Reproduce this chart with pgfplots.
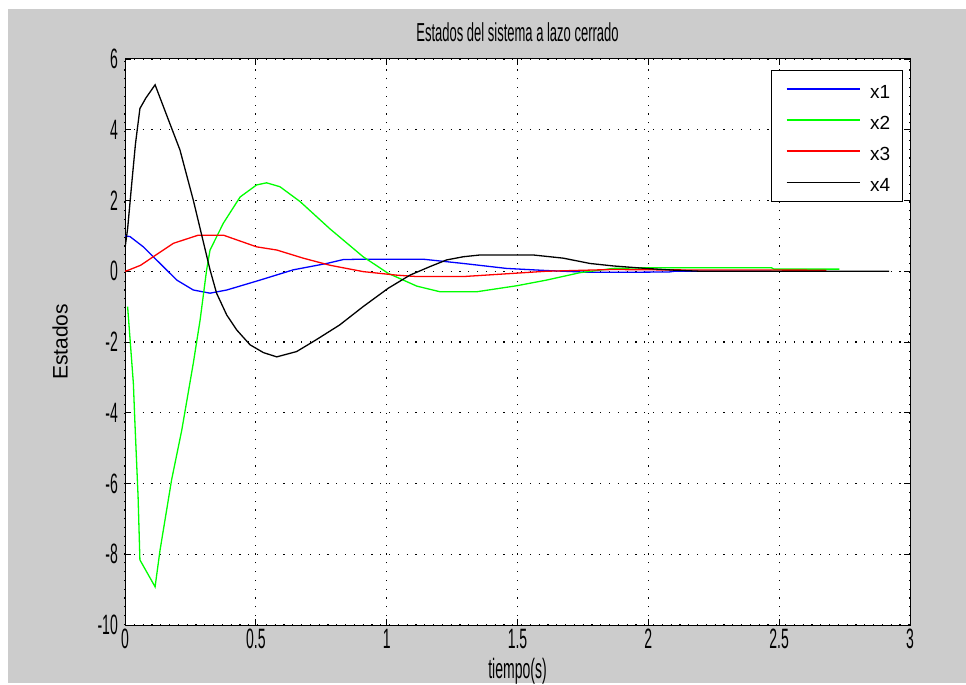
\documentclass[border=0pt]{standalone}
\usepackage{fontspec}
\setmainfont{Liberation Sans}
\newfontfamily\nfont[FakeStretch=0.5]{Liberation Sans}
\usepackage{pgfplots}
\pgfplotsset{compat=1.18}
\definecolor{mgrey}{RGB}{204,204,204}
\definecolor{mblue}{RGB}{0,0,255}
\definecolor{mgreen}{RGB}{0,255,0}
\definecolor{mred}{RGB}{255,0,0}
\begin{document}
\begin{tikzpicture}[x=1pt,y=1pt]
\fill[white] (0,0) rectangle (966,683);
\fill[mgrey] (8,0) rectangle (966,674);
\begin{axis}[
  at={(125pt,58pt)}, anchor=south west,
  width=785pt, height=566pt, scale only axis,
  xmin=0, xmax=3, ymin=-10, ymax=6,
  xtick={0,0.5,1,1.5,2,2.5,3},
  ytick={-10,-8,-6,-4,-2,0,2,4,6},
  /pgf/number format/assume math mode=true,
  tick label style={font=\nfont\fontsize{28}{28}\selectfont},
  xticklabel style={anchor=base, inner sep=0pt, yshift=-23pt},
  yticklabel style={anchor=east, inner sep=0pt, xshift=-7pt},
  tickpos=both, tick align=inside, major tick length=6pt,
  tick style={black, line width=0.8pt},
  axis line style={black, line width=1pt},
  grid=major,
  major grid style={black, line width=1.2pt, dash pattern=on 1.2pt off 7.6pt},
  axis background/.style={fill=white},
  title={Estados del sistema a lazo cerrado},
  title style={font=\nfont\fontsize{26}{26}\selectfont, at={(axis description cs:0.5,1.021)}, anchor=base, inner sep=0pt},
  xlabel={tiempo(s)},
  xlabel style={font=\nfont\fontsize{28}{28}\selectfont, at={(axis description cs:0.5,-0.0954)}, anchor=base, inner sep=0pt},
  ylabel={Estados},
  ylabel style={font=\fontsize{21}{21}\selectfont, at={(axis description cs:-0.0828,0.5)}, anchor=center, inner sep=0pt},
  every axis plot/.append style={line width=1.3pt},
]
% x1
\addplot[mblue] coordinates {
(0,1.0) (0.019,0.98) (0.07,0.69) (0.134,0.22) (0.198,-0.25) (0.261,-0.53)
(0.325,-0.62) (0.389,-0.53) (0.516,-0.25) (0.643,0.04) (0.771,0.22)
(0.834,0.33) (0.9,0.34) (1.14,0.34) (1.293,0.22) (1.458,0.08) (1.611,0.02)
(1.777,-0.03) (1.9,-0.03) (2.08,-0.02) (2.1,0.0) (2.47,0.0)};
% x2
\addplot[mgreen] coordinates {
(0.01,-1.0) (0.032,-3.17) (0.038,-4.3) (0.05,-6.37) (0.057,-8.16) (0.115,-8.92)
(0.134,-7.88) (0.178,-5.9) (0.217,-4.49) (0.261,-2.6) (0.287,-1.38) (0.312,0.04)
(0.325,0.6) (0.376,1.36) (0.44,2.1) (0.503,2.44) (0.541,2.5) (0.592,2.39)
(0.669,1.97) (0.783,1.2) (0.91,0.41) (1.006,-0.06) (1.115,-0.42) (1.204,-0.58)
(1.344,-0.58) (1.497,-0.41) (1.611,-0.25) (1.739,-0.04) (1.866,0.08)
(2.0,0.1) (2.47,0.1) (2.48,0.06) (2.73,0.06)};
% x3
\addplot[mred] coordinates {
(0,0) (0.013,0.03) (0.06,0.17) (0.108,0.41) (0.185,0.79) (0.28,1.02) (0.376,1.02)
(0.503,0.69) (0.58,0.6) (0.681,0.37) (0.783,0.17) (0.91,-0.01) (1.038,-0.11)
(1.115,-0.15) (1.293,-0.15) (1.42,-0.09) (1.61,0.0) (1.866,0.05) (2.0,0.04)
(2.68,0.03)};
% x4
\addplot[black] coordinates {
(0,0.65) (0.01,1.2) (0.026,2.5) (0.04,3.6) (0.057,4.6) (0.08,4.9) (0.115,5.27)
(0.166,4.28) (0.21,3.43) (0.261,2.01) (0.325,0.04) (0.35,-0.62) (0.389,-1.24)
(0.427,-1.66) (0.478,-2.08) (0.529,-2.3) (0.58,-2.42) (0.656,-2.27) (0.73,-1.94)
(0.82,-1.52) (0.91,-1.0) (1.006,-0.48) (1.089,-0.11) (1.165,0.13) (1.229,0.32)
(1.293,0.41) (1.357,0.46) (1.56,0.46) (1.675,0.37) (1.777,0.22) (1.866,0.15)
(1.99,0.08) (2.1,0.03) (2.2,0.0) (2.92,0.0)};
% legend
\draw[black, line width=1pt, fill=white] (rel axis cs:0.8238,0.7479) rectangle (rel axis cs:0.9902,0.9793);
\draw[mblue, line width=1.3pt] (rel axis cs:0.8429,0.947) -- (rel axis cs:0.9363,0.947);
\draw[mgreen, line width=1.3pt] (rel axis cs:0.8429,0.8922) -- (rel axis cs:0.9363,0.8922);
\draw[mred, line width=1.3pt] (rel axis cs:0.8429,0.8375) -- (rel axis cs:0.9363,0.8375);
\draw[black, line width=1.3pt] (rel axis cs:0.8429,0.7815) -- (rel axis cs:0.9363,0.7815);
\node[anchor=west, inner sep=0pt, yshift=-2.5pt, font=\fontsize{19}{19}\selectfont] at (rel axis cs:0.949,0.947) {x1};
\node[anchor=west, inner sep=0pt, yshift=-2.5pt, font=\fontsize{19}{19}\selectfont] at (rel axis cs:0.949,0.8922) {x2};
\node[anchor=west, inner sep=0pt, yshift=-2.5pt, font=\fontsize{19}{19}\selectfont] at (rel axis cs:0.949,0.8375) {x3};
\node[anchor=west, inner sep=0pt, yshift=-2.5pt, font=\fontsize{19}{19}\selectfont] at (rel axis cs:0.949,0.7815) {x4};
\end{axis}
\end{tikzpicture}
\end{document}
